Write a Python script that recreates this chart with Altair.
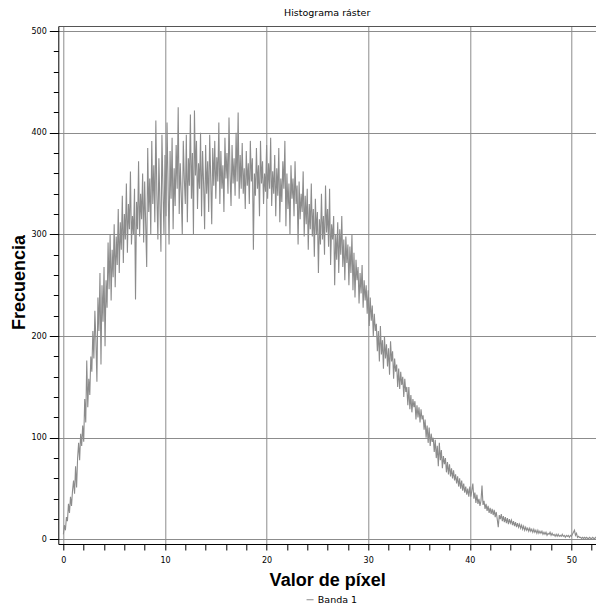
import altair as alt
import pandas as pd

title_text = "Histograma ráster"
x_title = "Valor de píxel"
y_title = "Frecuencia"
series_name = "Banda 1"
bin_step = 0.1

# frequencies, one value per 0.1 of pixel value
freq_00_05 = [5, 14, 9, 22, 18, 35, 26, 42, 33, 48,
              58, 45, 72, 51, 80, 95, 78, 104, 92, 112,
              96, 138, 115, 176, 130, 158, 142, 180, 165, 205,
              178, 225, 196, 155, 238, 205, 262, 172, 250, 214,
              268, 190, 255, 228, 292, 246, 300, 235, 285, 258]
freq_05_10 = [310, 248, 298, 270, 325, 262, 312, 285, 338, 272,
              320, 295, 350, 282, 330, 305, 362, 290, 318, 300,
              345, 236, 332, 305, 372, 298, 340, 315, 360, 292,
              352, 310, 268, 385, 322, 355, 300, 392, 330, 368,
              312, 412, 340, 295, 375, 330, 283, 398, 345, 300]
freq_10_15 = [378, 318, 410, 350, 290, 382, 335, 395, 305, 365,
              328, 388, 345, 425, 320, 370, 340, 300, 392, 355,
              330, 398, 312, 375, 348, 418, 335, 380, 300, 422,
              358, 392, 325, 370, 345, 400, 318, 382, 350, 305,
              388, 340, 372, 322, 398, 355, 310, 385, 348, 392]
freq_15_20 = [335, 376, 352, 410, 330, 382, 345, 368, 322, 395,
              355, 380, 340, 415, 360, 328, 388, 350, 375, 338,
              400, 352, 420, 335, 378, 345, 390, 340, 365, 325,
              382, 348, 370, 330, 392, 352, 375, 285, 360, 338,
              385, 345, 368, 318, 392, 350, 372, 330, 360, 342]
freq_20_25 = [388, 335, 370, 345, 395, 328, 362, 340, 378, 318,
              365, 338, 385, 312, 355, 332, 372, 345, 392, 308,
              360, 325, 350, 300, 368, 335, 355, 318, 372, 330,
              348, 290, 352, 315, 340, 322, 362, 298, 338, 310,
              345, 285, 330, 305, 350, 298, 325, 278, 335, 300]
freq_25_30 = [322, 262, 315, 290, 340, 295, 318, 280, 348, 302,
              325, 288, 345, 270, 310, 295, 318, 250, 300, 275,
              312, 262, 305, 280, 318, 268, 295, 255, 298, 272,
              290, 250, 288, 262, 300, 245, 282, 238, 275, 255,
              268, 232, 262, 242, 270, 228, 255, 235, 250, 222]
freq_30_35 = [245, 210, 238, 215, 230, 200, 222, 205, 212, 185,
              205, 175, 210, 182, 196, 168, 200, 178, 192, 170,
              188, 162, 195, 175, 185, 158, 178, 165, 172, 150,
              168, 148, 165, 152, 160, 140, 158, 145, 150, 132,
              150, 128, 142, 125, 138, 130, 136, 118, 132, 120]
freq_35_40 = [130, 115, 128, 118, 122, 108, 118, 100, 112, 95,
              110, 92, 104, 96, 100, 86, 98, 80, 92, 72,
              95, 78, 88, 70, 82, 74, 80, 66, 76, 64,
              74, 62, 70, 60, 68, 58, 64, 55, 62, 52,
              60, 50, 58, 48, 55, 46, 52, 44, 50, 42]
freq_40_45 = [52, 42, 48, 55, 40, 46, 36, 44, 35, 40,
              33, 38, 53, 34, 38, 30, 35, 28, 33, 26,
              31, 25, 30, 24, 29, 22, 27, 20, 12, 24,
              20, 25, 18, 23, 17, 22, 16, 21, 15, 20,
              16, 19, 14, 18, 13, 17, 12, 16, 12, 15]
freq_45_53 = [11, 14, 10, 13, 9, 12, 9, 11, 8, 11,
              8, 10, 7, 10, 7, 9, 6, 9, 6, 8,
              6, 8, 5, 7, 5, 7, 4, 6, 5, 7,
              4, 6, 4, 5, 3, 5, 3, 5, 3, 4,
              3, 5, 3, 4, 2, 4, 3, 4, 2, 4,
              3, 5, 7, 9, 4, 6, 2, 3, 2, 2,
              1, 2, 1, 2, 1, 2, 1, 1, 2, 1,
              1, 2, 1, 1, 2, 1, 1, 1, 2, 1,
              1, 1, 1]

x_ticks = list(range(0, 54, 2))
y_ticks = list(range(0, 501, 20))

freq = (freq_00_05 + freq_05_10 + freq_10_15 + freq_15_20 + freq_20_25
        + freq_25_30 + freq_30_35 + freq_35_40 + freq_40_45 + freq_45_53)
pixel = [round(i * bin_step, 1) for i in range(len(freq))]
df = pd.DataFrame({"pixel": pixel, "freq": freq, "serie": series_name})

line_color = "#8c8c8c"
x_scale = alt.Scale(domain=[-0.5, 52.42], nice=False, zero=False)
y_scale = alt.Scale(domain=[-4.5, 505], nice=False, zero=False)

main = alt.Chart(df).mark_line(strokeWidth=1.1, clip=True).encode(
    x=alt.X(
        "pixel:Q",
        scale=x_scale,
        axis=alt.Axis(
            values=x_ticks,
            labelExpr="datum.value % 10 === 0 ? datum.label : ''",
            gridOpacity={"condition": {"test": "datum.value % 10 === 0", "value": 1}, "value": 0},
            tickSize=6,
            labelPadding=6,
            title=x_title,
            titleY=41,
            titleBaseline="alphabetic",
        ),
    ),
    y=alt.Y(
        "freq:Q",
        scale=y_scale,
        axis=alt.Axis(
            values=y_ticks,
            labelExpr="datum.value % 100 === 0 ? datum.label : ''",
            gridOpacity={"condition": {"test": "datum.value % 100 === 0", "value": 1}, "value": 0},
            tickSize={"condition": {"test": "datum.value % 100 === 0", "value": 9}, "value": 5},
            labelPadding=3,
            title=y_title,
            titleX=-34,
            titleY=256,
            titleBaseline="alphabetic",
            titleAlign="center",
        ),
    ),
    color=alt.Color(
        "serie:N",
        scale=alt.Scale(range=[line_color]),
        legend=alt.Legend(
            orient="none",
            legendX=247,
            legendY=569,
            title=None,
            symbolType="stroke",
            symbolSize=49,
            symbolStrokeWidth=1,
            labelFont="DejaVu Sans",
            labelFontSize=9.5,
            labelColor="#000",
            labelOffset=3,
            padding=0,
        ),
    ),
)

top_frame = alt.Chart(df).mark_line(opacity=0).encode(
    x=alt.X(
        "pixel:Q",
        scale=x_scale,
        axis=alt.Axis(orient="top", labels=False, ticks=False, grid=False,
                      title=None, domainColor="#555"),
    ),
)

chart = alt.layer(main, top_frame).resolve_axis(x="independent").properties(
    width=537.7,
    height=518,
    title=alt.TitleParams(
        title_text,
        font="DejaVu Sans",
        fontSize=9.5,
        fontWeight="normal",
        color="#000",
        anchor="middle",
        baseline="alphabetic",
        offset=1,
    ),
    autosize=alt.AutoSizeParams(type="none"),
    padding={"left": 50.3, "top": 18, "right": 0, "bottom": 62},
).configure_view(
    stroke="transparent", strokeWidth=0
).configure_axis(
    domainColor="#000",
    tickColor="#000",
    gridColor="#8c8c8c",
    gridWidth=1,
    labelColor="#000",
    labelFont="DejaVu Sans",
    labelFontSize=8,
    titleColor="#000",
    titleFont="Liberation Sans",
    titleFontSize=18,
    titleFontWeight="bold",
)

chart.save("out.html", embed_options={"renderer": "svg", "actions": False})
